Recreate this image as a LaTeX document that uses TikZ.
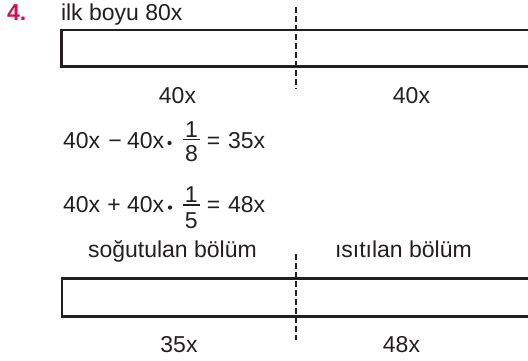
\documentclass[tikz,border=0pt]{standalone}
\usepackage{fontspec}
\setmainfont{Liberation Sans}
\definecolor{ink}{HTML}{231F20}
\definecolor{crim}{HTML}{D0104C}
\tikzset{
  txt/.style={inner sep=0pt, outer sep=0pt, text=ink, font=\fontsize{23}{27}\selectfont},
  numlabel/.style={inner sep=0pt, outer sep=0pt, text=crim, font=\fontsize{23}{27}\selectfont\bfseries},
  stripe/.style={draw=ink, line width=2.5pt, line join=miter},
  dashline/.style={draw=ink, line width=2.2pt, dash pattern=on 6pt off 3pt},
  fracbar/.style={draw=ink, line width=1.3pt},
  dotmark/.style={fill=ink},
}
\begin{document}
\begin{tikzpicture}[x=1pt,y=-1pt]
\path[use as bounding box] (0,0) rectangle (528,360);
\clip (0,0) rectangle (528,360);

% header
\node[numlabel, anchor=base west] (num) at (7,20) {4.};
\node[txt, anchor=base west] (title) at (61,20) {ilk boyu 80x};

% top strip
\draw[stripe] (545,30) -| (61.7,66.7) -- (545,66.7);
\coordinate (d1a) at (296,7);
\coordinate (d1b) at (296,89);
\draw[dashline] (d1a) -- (d1b);
\node[txt, anchor=base] (l40a) at (177.5,103) {40x};
\node[txt, anchor=base] (l40b) at (411.5,103) {40x};

% equation 1
\node[txt, anchor=base west] (e1a) at (63,148) {40x};
\node[txt, anchor=base] (e1m) at (115,148) {−};
\node[txt, anchor=base west] (e1b) at (127,148) {40x};
\fill[dotmark] (169.5,143) circle (2.1);
\draw[fracbar] (183,139.5) -- (200,139.5);
\node[txt, anchor=base] (e1n) at (191.5,137) {1};
\node[txt, anchor=base] (e1d) at (191.5,161.5) {8};
\node[txt, anchor=base] (e1q) at (213.5,148) {=};
\node[txt, anchor=base west] (e1r) at (228,148) {35x};

% equation 2
\node[txt, anchor=base west] (e2a) at (63,212.3) {40x};
\node[txt, anchor=base] (e2p) at (114,212.3) {+};
\node[txt, anchor=base west] (e2b) at (127,212.3) {40x};
\fill[dotmark] (170,207.5) circle (2.1);
\draw[fracbar] (183,205) -- (199.5,205);
\node[txt, anchor=base] (e2n) at (191.3,202.5) {1};
\node[txt, anchor=base] (e2d) at (191.3,228) {5};
\node[txt, anchor=base] (e2q) at (213.5,212.3) {=};
\node[txt, anchor=base west] (e2r) at (228,212.3) {48x};

% bottom
\node[txt, anchor=base west] (cold) at (88,257) {soğutulan bölüm};
\node[txt, anchor=base west] (hot) at (335,257) {ısıtılan bölüm};
\draw[stripe] (545,278.7) -| (62,316.5) -- (545,316.5);
\coordinate (d2a) at (296,254);
\coordinate (d2b) at (296,340);
\draw[dashline] (d2a) -- (d2b);
\node[txt, anchor=base] (l35) at (179,352.5) {35x};
\node[txt, anchor=base] (l48) at (401.5,352.5) {48x};
\end{tikzpicture}
\end{document}
